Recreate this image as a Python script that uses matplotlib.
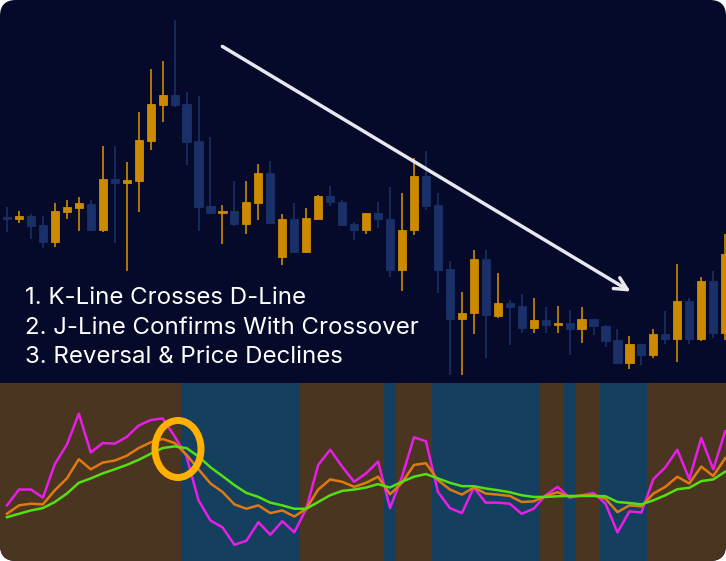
import numpy as np
import matplotlib.pyplot as plt
from matplotlib.patches import FancyBboxPatch, Ellipse

W, H = 726, 561

# candle data (index 0..60)
opens = [183, 181, 184, 175, 158, 188, 192, 196, 170, 221, 217, 219, 259, 295, 305, 296, 259, 194, 187, 189,
         176, 197, 227, 143, 181, 148, 181, 204, 198, 176, 170, 187, 181, 130, 170, 224, 195, 131, 81, 87,
         141, 84, 97, 94, 72, 80, 75, 77, 71, 81, 74, 60, 37, 56, 45, 66, 61, 99, 61, 119, 67]
closes = [181, 184, 174, 158, 189, 193, 197, 170, 221, 217, 220, 260, 296, 305, 295, 258, 193, 187, 189, 176,
          198, 227, 177, 181, 148, 182, 204, 198, 175, 170, 187, 181, 130, 170, 224, 194, 130, 81, 87, 141,
          85, 97, 93, 72, 80, 75, 77, 71, 81, 74, 59, 37, 56, 45, 66, 61, 99, 61, 119, 67, 146]
highs = [193, 189, 186, 184, 197, 200, 203, 200, 254, 254, 238, 288, 331, 339, 380, 308, 304, 263, 195, 219,
         219, 236, 239, 186, 197, 192, 205, 214, 200, 178, 187, 198, 213, 207, 242, 249, 207, 139, 108, 150,
         150, 127, 100, 106, 102, 93, 94, 90, 93, 81, 75, 71, 64, 56, 71, 89, 136, 102, 123, 129, 166]
lows = [168, 177, 161, 152, 153, 181, 169, 169, 168, 157, 129, 188, 250, 278, 293, 235, 169, 187, 156, 174,
        166, 180, 177, 135, 147, 148, 181, 194, 175, 160, 166, 172, 123, 109, 165, 190, 107, 25, 25, 66,
        42, 82, 55, 67, 67, 67, 67, 45, 57, 65, 53, 37, 31, 35, 42, 56, 38, 56, 59, 62, 60]

# KDJ indicator
k_line = [30, 35, 36, 35.6, 44, 51, 62.4, 56.4, 60.4, 61.6, 64.4, 69, 72.4, 74.4, 72, 65, 56.4, 48, 43, 35.6,
          33, 35, 30.4, 32, 28.4, 33, 44.4, 50.4, 49, 46, 48.4, 52, 41.6, 48.4, 59, 60, 50, 44.4, 41.4, 45.6,
          42, 41.4, 40.6, 37, 37.4, 40.6, 42.8, 40, 40.8, 41, 39, 31, 35, 34.4, 42, 46, 52, 48, 58, 52.4, 63]
d_line = [28, 30, 32, 33.4, 37, 42, 48.4, 51, 54, 56.4, 59, 62, 65.6, 69, 70, 69, 64, 57.6, 52.4, 47,
          42.4, 40, 36.6, 35, 33, 33, 37, 41, 43.6, 44.4, 45.6, 47.6, 45.6, 49, 52, 53.6, 51, 48.4, 46.4, 46.4,
          45, 44, 42.8, 41, 40, 40, 40.4, 40.6, 40.6, 40.6, 40.4, 37, 36.4, 35.6, 38, 41, 44.6, 45.4, 49.4, 50.4, 55]
j_line = [35, 44.4, 44.4, 39.6, 59.6, 71, 89.4, 66.4, 72, 71.6, 75.6, 82.4, 85.6, 86.6, 76, 64, 38, 26, 22, 11.6,
          14, 25, 17.6, 25.6, 19, 33, 59, 68, 58, 49, 54, 61, 33.4, 52, 75.4, 73, 43, 33.4, 30.4, 45.6,
          36.6, 36.6, 36, 30, 33, 41, 46, 39.6, 41, 42.4, 36, 19, 31.4, 30.8, 50.6, 57.6, 68, 50.6, 75, 56.4, 79]
# index ranges where the background is blue (bearish)
bear_zones = [(15, 24), (32, 32), (36, 44), (47, 47), (50, 53)]

notes = ["1. K-Line Crosses D-Line", "2. J-Line Confirms With Crossover", "3. Reversal & Price Declines"]

NAVY = "#060a2a"
UP = "#cc8a00"
DOWN = "#1a3068"
BROWN = "#4a3520"
TEAL = "#143f5e"

fig = plt.figure(figsize=(W / 100, H / 100), dpi=100, facecolor="white")

bg = fig.add_axes([0, 0, 1, 1], zorder=0)
bg.set_xlim(0, W)
bg.set_ylim(H, 0)
bg.axis("off")
card = FancyBboxPatch((0, 0), W, H, boxstyle="round,pad=0,rounding_size=16",
                      facecolor=NAVY, edgecolor="none")
bg.add_patch(card)
lower = FancyBboxPatch((0, 383), W, H - 383, boxstyle="round,pad=0,rounding_size=16",
                       facecolor=BROWN, edgecolor="none")
bg.add_patch(lower)
bg.add_patch(plt.Rectangle((0, 383), W, 20, facecolor=BROWN, edgecolor="none"))

n = len(opens)
step = 11.97
xlo, xhi = -7 / step, (W - 7) / step

# price panel
ax = fig.add_axes([0, 1 - 383 / H, 1, 383 / H], zorder=1)
ax.patch.set_alpha(0)
ax.axis("off")
ax.set_xlim(xlo, xhi)
ax.set_ylim(17, 400)
for i in range(n):
    c = UP if closes[i] >= opens[i] else DOWN
    ax.vlines(i, lows[i], highs[i], color=c, lw=1.2)
    lo, hi = sorted((opens[i], closes[i]))
    ax.bar(i, max(hi - lo, 1.5), bottom=lo, width=0.68, color=c, edgecolor=c, lw=0.6)

# KDJ panel
kx = fig.add_axes([0, 0, 1, 178 / H], zorder=1)
kx.patch.set_alpha(0)
kx.axis("off")
kx.set_xlim(xlo, xhi)
kx.set_ylim(2, 107.6)
for a, b in bear_zones:
    sp = kx.axvspan(a - 0.5, b + 0.5, color=TEAL, lw=0)
    sp.set_clip_path(lower)
xs = np.arange(n)
kx.plot(xs, j_line, color="#e81ee8", lw=1.8)
kx.plot(xs, k_line, color="#e07a10", lw=1.8)
kx.plot(xs, d_line, color="#55e010", lw=1.8)

# overlay annotations
ov = fig.add_axes([0, 0, 1, 1], zorder=2)
ov.patch.set_alpha(0)
ov.axis("off")
ov.set_xlim(0, W)
ov.set_ylim(H, 0)
ov.annotate("", xy=(633, 293), xytext=(220, 45),
            arrowprops=dict(arrowstyle="->,head_length=0.9,head_width=0.45",
                            color="#e8e8ee", lw=2.5))
for t, y in zip(notes, [298, 328, 357]):
    ov.text(25, y, t, color="white", fontsize=17.3, family="Inter", va="center", ha="left")
ov.add_patch(Ellipse((178, 449), 46, 57, fill=False, edgecolor="#ffb000", lw=5))

fig.savefig("out.png", dpi=100, facecolor="white")
